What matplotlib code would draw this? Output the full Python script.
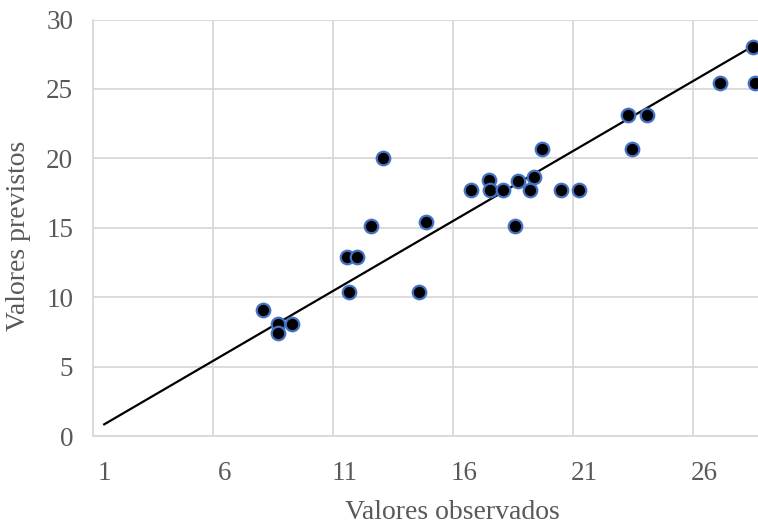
import numpy as np
import matplotlib
matplotlib.use("Agg")
import matplotlib.pyplot as plt
import matplotlib.transforms as mtransforms

observados = [8.1, 8.7, 8.7, 9.3, 11.6, 12.0, 11.7, 12.6, 13.1, 14.6, 14.9,
              16.75, 17.5, 17.55, 18.1, 18.7, 18.6, 19.2, 19.4, 19.7, 20.5,
              21.25, 23.45, 23.3, 24.1, 27.15, 28.6, 28.5]
previstos = [9.1, 8.1, 7.45, 8.1, 12.9, 12.9, 10.4, 15.15, 20.05, 10.4, 15.4,
             17.75, 18.45, 17.75, 17.75, 18.4, 15.15, 17.75, 18.65, 20.7, 17.75,
             17.75, 20.7, 23.15, 23.15, 25.45, 25.45, 28.05]

# Trend line end points
trend_x = [1.48, 28.5]
trend_y = [0.84, 28.07]

x_ticks = [1, 6, 11, 16, 21, 26]
y_ticks = [0, 5, 10, 15, 20, 25, 30]

TEXT = "#595959"
GRID = "#d9d9d9"

plt.rcParams['font.family'] = ['Liberation Serif', 'DejaVu Serif']

fig = plt.figure(figsize=(7.58, 5.25), dpi=100)
ax = fig.add_axes([92.7 / 758, 89 / 525, 1 - 92.7 / 758, (436 - 19.5) / 525])

ax.plot(trend_x, trend_y, color="black", lw=1.6, zorder=2)
ax.scatter(observados, previstos, s=95, color="black", edgecolors="#4472c4",
           linewidths=1.6, zorder=3)

ax.set_xlim(1, 1 + (758 - 92.7) / 24)
ax.set_ylim(0, 30)
ax.set_xticks(x_ticks)
ax.set_yticks(y_ticks)
ax.grid(True, color=GRID, lw=1.3, zorder=0)
ax.set_axisbelow(True)

for side in ["top", "right"]:
    ax.spines[side].set_visible(False)
for side in ["left", "bottom"]:
    ax.spines[side].set_color(GRID)
    ax.spines[side].set_linewidth(1.3)

ax.tick_params(axis="both", length=0, labelsize=19.5, labelcolor=TEXT)
ax.tick_params(axis="x", pad=18)
ax.tick_params(axis="y", pad=14)

# x tick labels sit a little to the right of their gridlines
offset = mtransforms.ScaledTranslation(11.5 / 100, 0, fig.dpi_scale_trans)
for lbl in ax.get_xticklabels():
    lbl.set_transform(lbl.get_transform() + offset)

fig.text(452 / 758, 6 / 525, "Valores observados", ha="center", va="baseline",
         fontsize=20, color=TEXT)
fig.text(19 / 758, 1 - 236 / 525, "Valores previstos", ha="center", va="center",
         rotation=90, fontsize=20, color=TEXT)

fig.savefig("out.png", dpi=100)
